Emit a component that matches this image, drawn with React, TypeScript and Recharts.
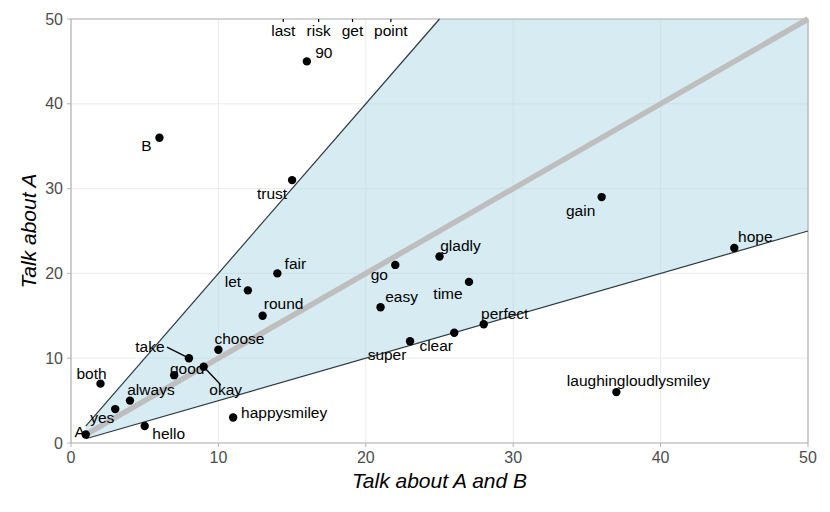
import React from 'react';
import {
  ComposedChart,
  Area,
  Scatter,
  XAxis,
  YAxis,
  CartesianGrid,
  ReferenceArea,
  Label,
} from 'recharts';

// words with their counts
const words = ['A', 'yes', 'both', 'always', 'hello', 'good', 'take', 'okay', 'choose', 'happysmiley',
  'let', 'round', 'fair', 'trust', '90', 'B', 'go', 'easy', 'gladly', 'time', 'super', 'clear',
  'perfect', 'gain', 'hope', 'laughingloudlysmiley'];
const talkAB = [1, 3, 2, 4, 5, 7, 8, 9, 10, 11, 12, 13, 14, 15, 16, 6, 22, 21, 25, 27, 23, 26, 28, 36, 45, 37];
const talkA = [1, 4, 7, 5, 2, 8, 10, 9, 11, 3, 18, 15, 20, 31, 45, 36, 21, 16, 22, 19, 12, 13, 14, 29, 23, 6];

// words whose points sit above the panel, labels pinned to the top edge
const topWords = ['last', 'risk', 'get', 'point'];
const topAB = [14.4, 16.8, 19.1, 21.7];
const topA = [50, 50, 50, 50];

// shaded band between the two bounding lines
const bandAB = [1, 25, 50];
const bandLow = [0.5, 12.5, 25];
const bandHigh = [2, 50, 50];

const upperEdgeAB = [1, 25];
const upperEdgeA = [2, 50];
const lowerEdgeAB = [1, 50];
const lowerEdgeA = [0.5, 25];
const diagAB = [1, 50];
const diagA = [1, 50];

const ticks = [0, 10, 20, 30, 40, 50];

const pts = words.map((w, i) => ({ x: talkAB[i], y: talkA[i], word: w }));
const topPts = topWords.map((w, i) => ({ x: topAB[i], y: topA[i], word: w }));
const band = bandAB.map((x, i) => ({ x, band: [bandLow[i], bandHigh[i]] }));
const toXY = (xs: number[], ys: number[]) => xs.map((x, i) => ({ x, y: ys[i] }));

// label nudges in pixels (repel-like placement)
const nudge: Record<string, [number, number]> = {
  A: [-6, -3], yes: [-13, 8], both: [-9, -10], always: [21, -11], hello: [24, 7],
  good: [13, -7], take: [-39, -12], okay: [22, 23], choose: [21, -11], happysmiley: [51, -5],
  let: [-15, -9], round: [21, -12], fair: [18, -10], trust: [-20, 13], '90': [17, -9],
  B: [-13, 8], go: [-16, 10], easy: [21, -11], gladly: [21, -11], time: [-21, 12],
  super: [-23, 13], clear: [-18, 13], perfect: [21, -11], gain: [-21, 13], hope: [21, -11],
  laughingloudlysmiley: [22, -12],
};
const leaders: Record<string, [number, number]> = {
  take: [-22, -11],
  okay: [17, 18],
};

const FONT = '"Liberation Sans", Arial, Helvetica, sans-serif';

const Dot = (props: any) => <circle cx={props.cx} cy={props.cy} r={4.2} fill="#000" />;
const NoDot = () => <g />;

const WordLabel = (props: any) => {
  const { cx, cy, payload } = props;
  const [dx, dy] = nudge[payload.word] || [0, 0];
  const lead = leaders[payload.word];
  return (
    <g>
      {lead && <line x1={cx} y1={cy} x2={cx + lead[0]} y2={cy + lead[1]} stroke="#000" strokeWidth={1.3} />}
      <text x={cx + dx} y={cy + dy} textAnchor="middle" dominantBaseline="central"
        fontFamily={FONT} fontSize={15.5} fill="#000">
        {payload.word}
      </text>
    </g>
  );
};

const TopLabel = (props: any) => {
  const { cx, cy, payload } = props;
  return (
    <g>
      <line x1={cx} y1={cy} x2={cx} y2={cy + 3} stroke="#000" strokeWidth={1.2} />
      <text x={cx} y={cy + 11} textAnchor="middle" dominantBaseline="central"
        fontFamily={FONT} fontSize={15.5} fill="#000">
        {payload.word}
      </text>
    </g>
  );
};

const tickStyle = { fill: '#4d4d4d', fontSize: 16, fontFamily: FONT };

export default function App() {
  return (
    <div style={{ position: 'absolute', left: 0, top: 0, background: '#fff' }}>
      <ComposedChart width={830} height={512} data={band}
        margin={{ top: 19, right: 22, bottom: 0, left: 0 }}>
        <CartesianGrid stroke="#ebebeb" strokeWidth={1} />
        <XAxis dataKey="x" type="number" domain={[0, 50]} ticks={ticks} height={69}
          axisLine={false} tickLine={{ stroke: '#b3b3b3' }} tickSize={4} tickMargin={5}
          tick={tickStyle}>
          <Label content={(p: any) => {
            const vb = p.viewBox;
            return (
              <text x={vb.x + vb.width / 2} y={vb.y + vb.height - 24} textAnchor="middle"
                fontFamily={FONT} fontSize={21} fontStyle="italic" fill="#000">
                Talk about A and B
              </text>
            );
          }} />
        </XAxis>
        <YAxis type="number" domain={[0, 50]} ticks={ticks} width={71}
          axisLine={false} tickLine={{ stroke: '#b3b3b3' }} tickSize={4} tickMargin={4}
          tick={tickStyle}>
          <Label content={(p: any) => {
            const vb = p.viewBox;
            const x = vb.x + 28;
            const y = vb.y + vb.height / 2;
            return (
              <text x={x} y={y} transform={`rotate(-90 ${x} ${y})`} textAnchor="middle"
                dominantBaseline="central" fontFamily={FONT} fontSize={21} fontStyle="italic" fill="#000">
                Talk about A
              </text>
            );
          }} />
        </YAxis>
        <Area dataKey="band" type="linear" fill="#add8e6" fillOpacity={0.5} stroke="none"
          isAnimationActive={false} activeDot={false} dot={false} />
        <Scatter data={toXY(upperEdgeAB, upperEdgeA)} dataKey="y" shape={NoDot}
          line={{ stroke: '#2b3a40', strokeWidth: 1.2 }} isAnimationActive={false} />
        <Scatter data={toXY(lowerEdgeAB, lowerEdgeA)} dataKey="y" shape={NoDot}
          line={{ stroke: '#2b3a40', strokeWidth: 1.2 }} isAnimationActive={false} />
        <Scatter data={toXY(diagAB, diagA)} dataKey="y" shape={NoDot}
          line={{ stroke: '#bebebe', strokeWidth: 5.5 }} isAnimationActive={false} />
        <Scatter data={pts} dataKey="y" shape={Dot} isAnimationActive={false} />
        <Scatter data={pts} dataKey="y" shape={WordLabel} isAnimationActive={false} />
        <Scatter data={topPts} dataKey="y" shape={TopLabel} isAnimationActive={false} />
        <ReferenceArea x1={0} x2={50} y1={0} y2={50} fill="none" stroke="#b3b3b3" strokeWidth={1.2} />
      </ComposedChart>
    </div>
  );
}
